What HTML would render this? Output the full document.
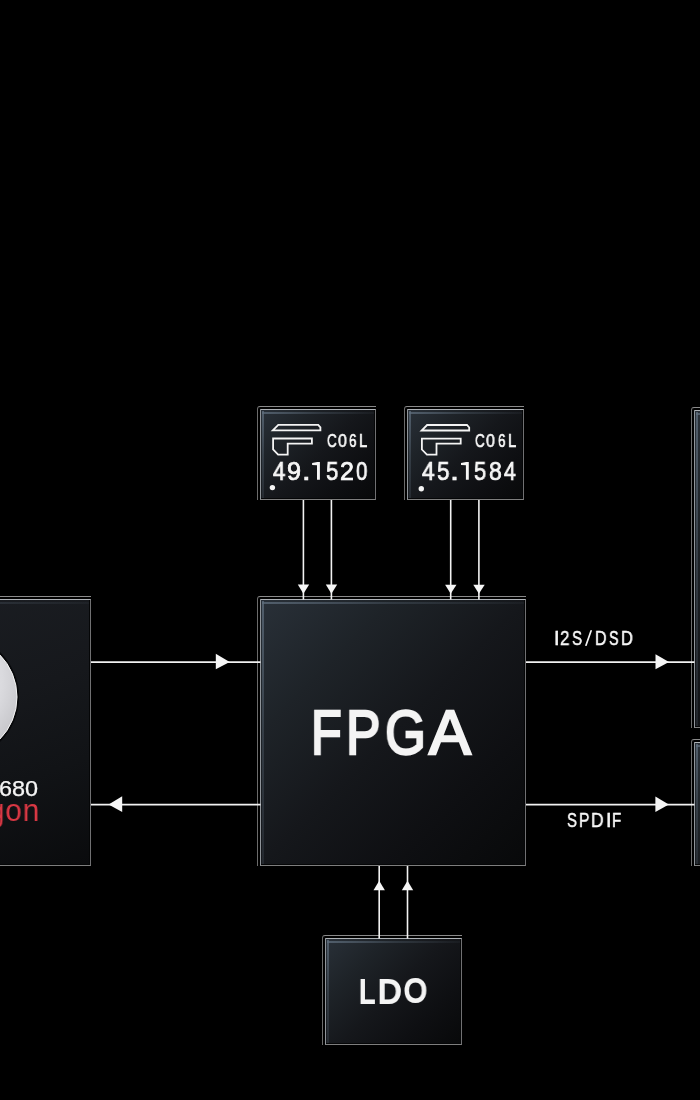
<!DOCTYPE html>
<html>
<head>
<meta charset="utf-8">
<style>
html,body{margin:0;padding:0;background:#000;}
body{width:700px;height:1100px;position:relative;overflow:hidden;font-family:"Liberation Sans",sans-serif;color:#f2f2f2;}
.o{position:absolute;box-sizing:border-box;border-top:1px solid #8a8a8a;border-left:1px solid #6c6c6c;border-radius:3px 0 0 0;}
.i{position:absolute;box-sizing:border-box;border:1px solid;border-color:#aeb2b6 #707072 #7e7e7e #90959a;border-radius:1px 0 0 0;box-shadow:inset -1px -1px 0 #050607;
 background:
  linear-gradient(to right,rgba(95,110,125,.75),rgba(95,110,125,.3) 50%,rgba(95,110,125,.08)) 1px 2px/100% 2px no-repeat,
  linear-gradient(to bottom,rgba(95,110,125,.75),rgba(95,110,125,.35) 50%,rgba(95,110,125,.2)) 1px 1px/2px 100% no-repeat,
  linear-gradient(135deg,#293038 0%,#1e2328 25%,#15171b 50%,#0e0f12 75%,#08090a 100%);}
.t{position:absolute;white-space:nowrap;line-height:1;transform-origin:0 0;color:#f4f4f4;will-change:transform;}
svg{position:absolute;left:0;top:0;}
.c{top:431.6px;font-size:18.6px;-webkit-text-stroke:0.6px #fff;}
.n{top:458.8px;font-size:25px;-webkit-text-stroke:0.7px #fff;}
</style>
</head>
<body>
<!-- left chip (snapdragon) -->
<div class="o" style="left:-179px;top:596px;width:270px;height:270px;"></div>
<div class="i" style="left:-176px;top:599px;width:267px;height:267px;background:
  linear-gradient(to right,rgba(95,110,125,.75),rgba(95,110,125,.3) 50%,rgba(95,110,125,.08)) 1px 2px/100% 2px no-repeat,
  linear-gradient(160deg,#1c1f24 0%,#16181c 45%,#111316 70%,#0a0b0d 100%);"></div>
<!-- crystal 1 -->
<div class="o" style="left:257px;top:406px;width:119px;height:94px;"></div>
<div class="i" style="left:260px;top:409px;width:116px;height:91px;"></div>
<!-- crystal 2 -->
<div class="o" style="left:404px;top:406px;width:120px;height:94px;"></div>
<div class="i" style="left:407px;top:409px;width:117px;height:91px;"></div>
<!-- FPGA -->
<div class="o" style="left:257px;top:596px;width:269px;height:270px;"></div>
<div class="i" style="left:260px;top:599px;width:266px;height:267px;"></div>
<!-- LDO -->
<div class="o" style="left:322px;top:935px;width:140px;height:110px;"></div>
<div class="i" style="left:325px;top:938px;width:137px;height:107px;"></div>
<!-- right chips -->
<div class="o" style="left:691px;top:407px;width:200px;height:321px;"></div>
<div class="i" style="left:694px;top:410px;width:197px;height:318px;"></div>
<div class="o" style="left:691px;top:739px;width:200px;height:127px;"></div>
<div class="i" style="left:694px;top:742px;width:197px;height:124px;"></div>

<svg width="700" height="1100" viewBox="0 0 700 1100">
 <defs>
  <radialGradient id="cg" cx="0.35" cy="0.35" r="0.75">
   <stop offset="0" stop-color="#f0f0f0"/>
   <stop offset="0.7" stop-color="#dadade"/>
   <stop offset="1" stop-color="#c4c4c8"/>
  </radialGradient>
 </defs>
 <!-- snapdragon circle -->
 <circle cx="-43.5" cy="697" r="62.5" fill="#07080a"/>
 <circle cx="-43.5" cy="697" r="60.5" fill="url(#cg)" stroke="#f4f4f4" stroke-width="1"/>
 <g stroke="#f2f2f2" stroke-width="1.6" fill="none">
  <!-- crystal -> fpga -->
  <line x1="303.4" y1="500" x2="303.4" y2="599.5"/>
  <line x1="331.4" y1="500" x2="331.4" y2="599.5"/>
  <line x1="450.7" y1="500" x2="450.7" y2="599.5"/>
  <line x1="478.9" y1="500" x2="478.9" y2="599.5"/>
  <!-- ldo -> fpga -->
  <line x1="379.2" y1="866" x2="379.2" y2="938.5"/>
  <line x1="407.5" y1="866" x2="407.5" y2="938.5"/>
  <!-- horizontal -->
  <line x1="91" y1="662.1" x2="260.5" y2="662.1"/>
  <line x1="91" y1="804.6" x2="260.5" y2="804.6"/>
  <line x1="526" y1="662.1" x2="694.5" y2="662.1"/>
  <line x1="526" y1="804.6" x2="694.5" y2="804.6"/>
 </g>
 <g fill="#f6f6f6">
  <polygon points="297.8,584.6 309.2,584.6 303.4,593.8"/>
  <polygon points="325.8,584.6 337.2,584.6 331.4,593.8"/>
  <polygon points="445.1,584.8 456.5,584.8 450.7,593.8"/>
  <polygon points="473.3,584.8 484.7,584.8 478.9,593.8"/>
  <polygon points="373.5,890.2 384.9,890.2 379.2,880.8"/>
  <polygon points="401.8,890.2 413.2,890.2 407.5,880.8"/>
  <polygon points="215.8,653.8 215.8,669.2 229.7,662.1"/>
  <polygon points="122.2,796.2 122.2,812 108.6,804.6"/>
  <polygon points="655.5,654.2 655.5,669.2 669,662.1"/>
  <polygon points="655.4,796.6 655.4,812 668.8,804.6"/>
 </g>
 <line x1="591.1" y1="630.8" x2="586" y2="645.2" stroke="#f4f4f4" stroke-width="1.7" stroke-linecap="round"/>
 <g fill="#f6f6f6"><polygon points="312.1,463 317.2,462 319.9,462 319.9,479.7 317,479.7 317,465.2 312.1,465.1"/><g transform="translate(148.9 0)"><polygon points="312.1,463 317.2,462 319.9,462 319.9,479.7 317,479.7 317,465.2 312.1,465.1"/></g></g>
 <!-- crystal logos -->
 <g stroke="#f4f4f4" stroke-width="1.8" fill="none" stroke-linejoin="miter">
  <path d="M278.3,424.9 L318.2,424.9 L320.4,427.4 L320.4,430.4 L272.8,430.4 Z"/>
  <path d="M273.1,438.5 L311.9,438.5 L311.9,443.6 L287.7,443.6 L287.7,454.6 L278.1,454.6 L273.1,449.4 Z"/>
 </g>
 <g stroke="#f4f4f4" stroke-width="1.8" fill="none" stroke-linejoin="miter" transform="translate(148.8 0.1)">
  <path d="M278.3,424.9 L318.2,424.9 L320.4,427.4 L320.4,430.4 L272.8,430.4 Z"/>
  <path d="M273.1,438.5 L311.9,438.5 L311.9,443.6 L287.7,443.6 L287.7,454.6 L278.1,454.6 L273.1,449.4 Z"/>
 </g>
 <circle cx="272.4" cy="487.6" r="2.7" fill="#f4f4f4"/>
 <circle cx="421.3" cy="488.8" r="2.7" fill="#f4f4f4"/>
</svg>

<div class="t c" style="left:326.6px;transform:scaleX(0.725);">C</div>
<div class="t c" style="left:337.9px;transform:scaleX(0.86);">0</div>
<div class="t c" style="left:349.2px;transform:scaleX(0.73);">6</div>
<div class="t c" style="left:359.3px;transform:scaleX(0.789);">L</div>
<div class="t c" style="left:475.0px;transform:scaleX(0.725);">C</div>
<div class="t c" style="left:486.3px;transform:scaleX(0.86);">0</div>
<div class="t c" style="left:497.6px;transform:scaleX(0.73);">6</div>
<div class="t c" style="left:507.7px;transform:scaleX(0.789);">L</div>
<div class="t n" style="left:273.2px;transform:scaleX(0.886);">4</div>
<div class="t n" style="left:287.4px;transform:scaleX(1.008);">9</div>
<div class="t n" style="left:301.8px;transform:scaleX(1.233);">.</div>
<div class="t n" style="left:326.1px;transform:scaleX(0.892);">5</div>
<div class="t n" style="left:340.2px;transform:scaleX(0.967);">2</div>
<div class="t n" style="left:356.2px;transform:scaleX(0.821);">0</div>
<div class="t n" style="left:422.1px;transform:scaleX(0.907);">4</div>
<div class="t n" style="left:437.2px;transform:scaleX(0.9);">5</div>
<div class="t n" style="left:450.3px;transform:scaleX(1.3);">.</div>
<div class="t n" style="left:474.4px;transform:scaleX(0.883);">5</div>
<div class="t n" style="left:489.0px;transform:scaleX(0.917);">8</div>
<div class="t n" style="left:504.1px;transform:scaleX(0.85);">4</div>
<div class="t" style="left:311.1px;top:701px;font-size:62.49px;transform:scaleX(0.8037);-webkit-text-stroke:2.4px #f4f4f4;">F</div>
<div class="t" style="left:346px;top:701px;font-size:62.49px;transform:scaleX(0.8277);-webkit-text-stroke:2.4px #f4f4f4;">P</div>
<div class="t" style="left:385.3px;top:701px;font-size:62.49px;transform:scaleX(0.84);-webkit-text-stroke:2.4px #f4f4f4;">G</div>
<div class="t" style="left:428.7px;top:701px;font-size:62.49px;transform:scaleX(1.0028);-webkit-text-stroke:2.4px #f4f4f4;">A</div>
<div class="t" style="left:358.6px;top:974.9px;font-size:33.87px;transform:scaleX(0.8662);-webkit-text-stroke:2px #f4f4f4;">L</div>
<div class="t" style="left:377.6px;top:974.9px;font-size:33.87px;transform:scaleX(0.955);-webkit-text-stroke:2px #f4f4f4;">D</div>
<div class="t" style="left:404.1px;top:974.4px;font-size:33.87px;transform:scaleX(0.867);-webkit-text-stroke:2px #f4f4f4;">O</div>
<div class="t" style="left:554.1px;top:628.2px;font-size:20px;transform:scaleX(0.967);-webkit-text-stroke:0.5px #fff;">I</div>
<div class="t" style="left:559.8px;top:628.2px;font-size:20px;transform:scaleX(0.850);-webkit-text-stroke:0.5px #fff;">2</div>
<div class="t" style="left:571.5px;top:628.2px;font-size:20px;transform:scaleX(0.758);-webkit-text-stroke:0.5px #fff;">S</div>
<div class="t" style="left:594.9px;top:628.2px;font-size:20px;transform:scaleX(0.800);-webkit-text-stroke:0.5px #fff;">D</div>
<div class="t" style="left:608.6px;top:628.2px;font-size:20px;transform:scaleX(0.717);-webkit-text-stroke:0.5px #fff;">S</div>
<div class="t" style="left:620.6px;top:628.2px;font-size:20px;transform:scaleX(0.823);-webkit-text-stroke:0.5px #fff;">D</div>
<div class="t" style="left:566.5px;top:810.2px;font-size:20px;transform:scaleX(0.742);-webkit-text-stroke:0.5px #fff;">S</div>
<div class="t" style="left:579.4px;top:810.2px;font-size:20px;transform:scaleX(0.783);-webkit-text-stroke:0.5px #fff;">P</div>
<div class="t" style="left:591.4px;top:810.2px;font-size:20px;transform:scaleX(0.869);-webkit-text-stroke:0.5px #fff;">D</div>
<div class="t" style="left:606.1px;top:810.2px;font-size:20px;transform:scaleX(0.933);-webkit-text-stroke:0.5px #fff;">I</div>
<div class="t" style="left:612.3px;top:810.2px;font-size:20px;transform:scaleX(0.755);-webkit-text-stroke:0.5px #fff;">F</div>
<div class="t" style="left:-1.13px;top:778.4px;font-size:21.76px;transform:scaleX(1.077);-webkit-text-stroke:0.25px #fff;">680</div>
<div class="t" style="left:-12.07px;top:795.5px;font-size:30.97px;transform:scaleX(0.9584);letter-spacing:0.9px;color:#d93844;">gon</div>
</body>
</html>
